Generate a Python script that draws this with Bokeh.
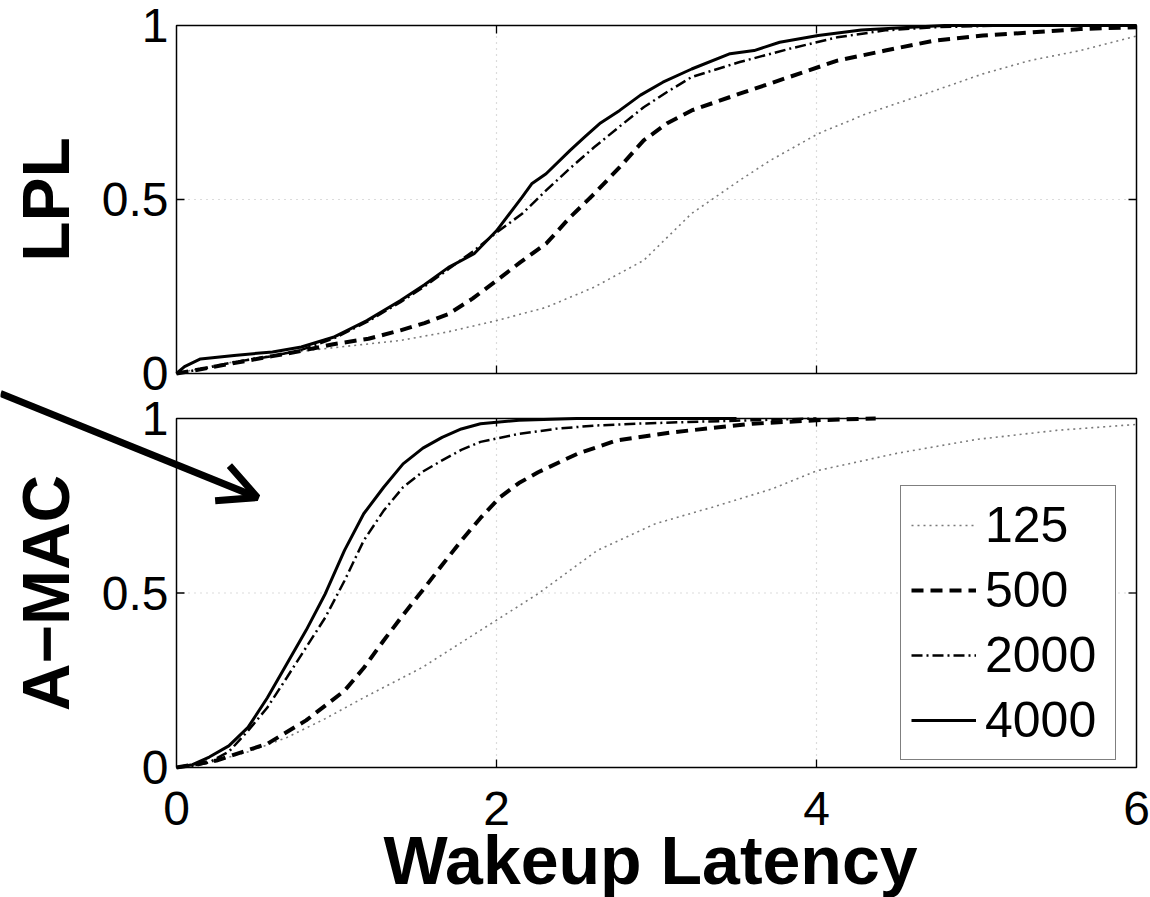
from bokeh.plotting import figure
from bokeh.models import Legend, LegendItem, Arrow, OpenHead, Label, Range1d
from bokeh.embed import file_html
from bokeh.resources import INLINE

# ---------------- data ----------------
series_names = ["125", "500", "2000", "4000"]

# LPL panel
lpl_125_x = [0, 0.2, 0.5, 0.8, 1.0, 1.4, 1.7, 2.0, 2.31, 2.61, 2.92, 3.22, 3.52, 3.71, 4.01, 4.31, 4.74, 5.04, 5.34, 5.65, 6.0]
lpl_125_y = [0, 0.02, 0.045, 0.065, 0.075, 0.095, 0.12, 0.152, 0.19, 0.248, 0.325, 0.46, 0.555, 0.612, 0.689, 0.746, 0.813, 0.861, 0.9, 0.928, 0.97]

lpl_500_x = [0, 0.15, 0.36, 0.6, 0.78, 0.98, 1.2, 1.4, 1.55, 1.7, 1.85, 2.0, 2.15, 2.31, 2.46, 2.61, 2.77, 2.92, 3.07, 3.22, 3.52, 3.83, 4.13, 4.43, 4.74, 5.04, 5.34, 5.65, 6.0]
lpl_500_y = [0, 0.012, 0.03, 0.05, 0.065, 0.084, 0.1, 0.124, 0.145, 0.171, 0.215, 0.267, 0.32, 0.373, 0.449, 0.516, 0.593, 0.67, 0.72, 0.756, 0.804, 0.852, 0.899, 0.928, 0.957, 0.971, 0.98, 0.99, 0.995]

lpl_2000_x = [0, 0.15, 0.36, 0.6, 0.78, 0.98, 1.19, 1.4, 1.55, 1.7, 1.85, 2.0, 2.16, 2.31, 2.46, 2.61, 2.77, 2.92, 3.07, 3.22, 3.52, 3.83, 4.13, 4.43, 4.74, 5.2, 6.0]
lpl_2000_y = [0, 0.012, 0.033, 0.05, 0.068, 0.1, 0.148, 0.205, 0.25, 0.3, 0.35, 0.405, 0.459, 0.526, 0.59, 0.65, 0.71, 0.765, 0.81, 0.852, 0.895, 0.933, 0.966, 0.986, 0.995, 1.0, 1.0]

lpl_4000_x = [0, 0.05, 0.15, 0.36, 0.6, 0.78, 0.98, 1.19, 1.4, 1.55, 1.7, 1.86, 2.0, 2.16, 2.22, 2.31, 2.46, 2.55, 2.65, 2.77, 2.9, 3.04, 3.22, 3.46, 3.61, 3.77, 4.01, 4.28, 4.59, 4.8, 6.0]
lpl_4000_y = [0, 0.02, 0.042, 0.052, 0.062, 0.076, 0.104, 0.152, 0.21, 0.255, 0.305, 0.344, 0.41, 0.507, 0.545, 0.574, 0.641, 0.679, 0.72, 0.756, 0.8, 0.837, 0.875, 0.919, 0.928, 0.952, 0.971, 0.987, 0.995, 1.0, 1.0]

# A-MAC panel
amac_125_x = [0, 0.205, 0.45, 0.69, 0.93, 1.17, 1.537, 1.9, 2.26, 2.63, 2.99, 3.35, 3.72, 4.0, 4.5, 5.0, 5.5, 6.0]
amac_125_y = [0, 0.014, 0.045, 0.086, 0.14, 0.2, 0.287, 0.393, 0.498, 0.622, 0.698, 0.746, 0.798, 0.85, 0.9, 0.94, 0.966, 0.983]

amac_500_x = [0, 0.25, 0.568, 0.81, 1.05, 1.17, 1.295, 1.416, 1.537, 1.66, 1.78, 1.9, 2.02, 2.14, 2.26, 2.506, 2.75, 3.11, 3.6, 4.0, 4.37]
amac_500_y = [0, 0.02, 0.068, 0.135, 0.22, 0.285, 0.364, 0.437, 0.507, 0.58, 0.65, 0.715, 0.774, 0.815, 0.846, 0.899, 0.937, 0.961, 0.985, 0.995, 1.0]

amac_2000_x = [0, 0.1, 0.205, 0.327, 0.447, 0.568, 0.69, 0.81, 0.93, 1.05, 1.17, 1.295, 1.416, 1.54, 1.66, 1.78, 1.9, 2.14, 2.38, 2.62, 2.87, 3.2, 4.0]
amac_2000_y = [0, 0.003, 0.015, 0.045, 0.105, 0.172, 0.258, 0.344, 0.43, 0.535, 0.65, 0.736, 0.803, 0.848, 0.88, 0.91, 0.933, 0.956, 0.971, 0.98, 0.985, 0.99, 1.0]

amac_4000_x = [0, 0.1, 0.205, 0.327, 0.447, 0.568, 0.69, 0.81, 0.93, 1.05, 1.17, 1.295, 1.416, 1.54, 1.66, 1.78, 1.9, 2.14, 2.5, 3.5]
amac_4000_y = [0, 0.008, 0.03, 0.062, 0.115, 0.2, 0.297, 0.393, 0.498, 0.622, 0.727, 0.803, 0.87, 0.915, 0.946, 0.97, 0.985, 0.995, 1.0, 1.0]

x_ticks = [0, 2, 4, 6]
x_tick_labels = ["0", "2", "4", "6"]
y_ticks = [0, 0.5, 1]
y_tick_labels = ["0", "0.5", "1"]
panel_labels = ["LPL", "A\u2212MAC"]
x_label = "Wakeup Latency"
x_min, x_max = 0, 6
y_min, y_max = 0, 1

# ---------------- geometry (pixels of the page) ----------------
W, H = 1150, 897
PANEL_LEFT, PANEL_RIGHT = 176, 1136
TOP_Y0, TOP_Y1 = 373, 25        # pixel rows of y=0 and y=1 in the LPL panel
BOT_Y0, BOT_Y1 = 767, 418       # same for the A-MAC panel
PX_X = (PANEL_RIGHT - PANEL_LEFT) / (x_max - x_min)
PX_TOP = (TOP_Y0 - TOP_Y1) / (y_max - y_min)
PX_BOT = (BOT_Y0 - BOT_Y1) / (y_max - y_min)
TICK_LEN = 8

FONT = "Liberation Sans"
TICK_FS = "48px"
LABEL_FS = "66px"

styles = {
    "125": dict(line_color="#7a7a7a", line_width=1.6, line_dash="2 4"),
    "500": dict(line_color="black", line_width=4, line_dash="12 7"),
    "2000": dict(line_color="black", line_width=2.5, line_dash="11 4 2 4"),
    "4000": dict(line_color="black", line_width=3),
}
GRID = dict(line_color="#b8b8b8", line_dash="1 5", line_width=1.2)

# one canvas-wide frame; each panel gets its own y range
x_range = Range1d(x_min - PANEL_LEFT / PX_X, x_min + (W - PANEL_LEFT) / PX_X)
y_bot = Range1d(-(H - BOT_Y0) / PX_BOT, BOT_Y0 / PX_BOT)
y_top = Range1d(-(H - TOP_Y0) / PX_TOP, TOP_Y0 / PX_TOP)

p = figure(width=W, height=H, x_range=x_range, y_range=y_bot, min_border=0,
           x_axis_location=None, y_axis_location=None,
           output_backend="svg", toolbar_location=None)
p.extra_y_ranges = {"top": y_top}
p.outline_line_color = None
p.grid.visible = False
p.background_fill_color = "white"


def panel(rng, px_y, curves, ylabel, xlabels):
    kw = {} if rng == "default" else {"y_range_name": rng}
    # grid
    gx = [t for t in x_ticks if x_min < t < x_max]
    gy = [t for t in y_ticks if y_min < t < y_max]
    p.segment(gx + [x_min] * len(gy), [y_min] * len(gx) + gy,
              gx + [x_max] * len(gy), [y_max] * len(gx) + gy, **GRID, **kw)
    # curves
    rends = []
    for name in series_names:
        xs, ys = curves[name]
        rends.append(p.line(xs, ys, **styles[name], **kw))
    # box
    p.line([x_min, x_min, x_max, x_max, x_min], [y_min, y_max, y_max, y_min, y_min],
           line_color="black", line_width=1.5, **kw)
    # inward ticks on all four sides
    dx, dy = TICK_LEN / PX_X, TICK_LEN / px_y
    p.segment(gx + gx + [x_min] * len(gy) + [x_max] * len(gy),
              [y_min] * len(gx) + [y_max] * len(gx) + gy + gy,
              gx + gx + [x_min + dx] * len(gy) + [x_max - dx] * len(gy),
              [y_min + dy] * len(gx) + [y_max - dy] * len(gx) + gy + gy,
              line_color="black", line_width=1.3, **kw)
    # y tick labels
    for t, s in zip(y_ticks, y_tick_labels):
        p.add_layout(Label(x=x_min - 8 / PX_X, y=t, text=s, text_align="right",
                           text_baseline="middle", text_font=FONT, text_font_size=TICK_FS,
                           text_color="black", **kw))
    # panel label (rotated)
    p.add_layout(Label(x=x_min - (PANEL_LEFT - 45) / PX_X, y=(y_min + y_max) / 2, text=ylabel,
                       angle=90, angle_units="deg", text_align="center", text_baseline="middle",
                       text_font=FONT, text_font_style="bold", text_font_size=LABEL_FS,
                       text_color="black", **kw))
    if xlabels:
        for t, s in zip(x_ticks, x_tick_labels):
            p.add_layout(Label(x=t, y=y_min - 41 / px_y, text=s, text_align="center",
                               text_baseline="middle", text_font=FONT,
                               text_font_size=TICK_FS, text_color="black", **kw))
        p.add_layout(Label(x=(650 - PANEL_LEFT) / PX_X, y=y_min - 92 / px_y, text=x_label,
                           text_align="center", text_baseline="middle", text_font=FONT,
                           text_font_style="bold", text_font_size="68px",
                           text_color="black", **kw))
    return rends


lpl = {"125": (lpl_125_x, lpl_125_y), "500": (lpl_500_x, lpl_500_y),
       "2000": (lpl_2000_x, lpl_2000_y), "4000": (lpl_4000_x, lpl_4000_y)}
amac = {"125": (amac_125_x, amac_125_y), "500": (amac_500_x, amac_500_y),
        "2000": (amac_2000_x, amac_2000_y), "4000": (amac_4000_x, amac_4000_y)}

panel("top", PX_TOP, lpl, panel_labels[0], False)
rends = panel("default", PX_BOT, amac, panel_labels[1], True)

items = [LegendItem(label=n, renderers=[r]) for n, r in zip(series_names, rends)]
legend = Legend(items=items, location=(900, H - 760), label_text_font=FONT,
                label_text_font_size="50px", label_text_color="black",
                glyph_width=65, glyph_height=40, label_height=58, label_width=120,
                label_standoff=9, spacing=7, padding=10, margin=0,
                border_line_color="black", border_line_width=1.5,
                background_fill_color="white", background_fill_alpha=1.0)
p.add_layout(legend, "center")

# arrow pointing into the A-MAC panel (pixel anchors converted to data units)
arrow_start = (x_min - PANEL_LEFT / PX_X, (BOT_Y0 - 393) / PX_BOT)
arrow_end = (x_min + (257 - PANEL_LEFT) / PX_X, (BOT_Y0 - 497) / PX_BOT)
p.add_layout(Arrow(end=OpenHead(size=38, line_width=7, line_color="black"),
                   x_start=arrow_start[0], y_start=arrow_start[1],
                   x_end=arrow_end[0], y_end=arrow_end[1],
                   line_width=7, line_color="black"))

open("out.html", "w").write(file_html(p, INLINE))
